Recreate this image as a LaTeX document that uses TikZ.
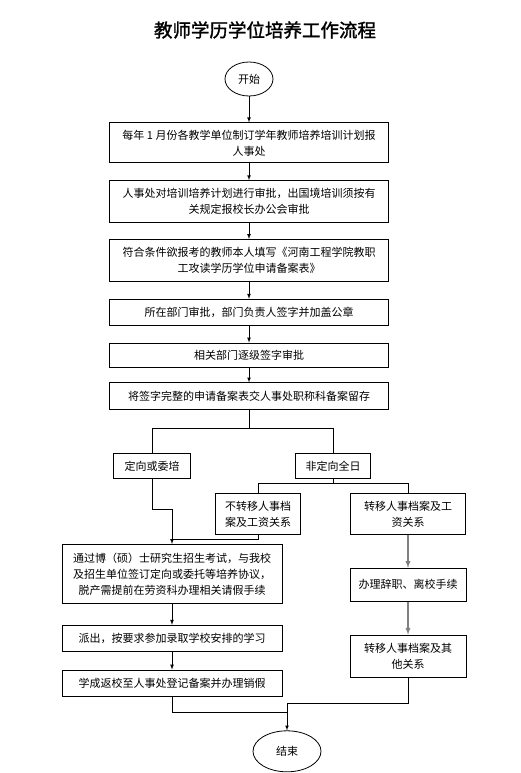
\documentclass[tikz,border=0pt]{standalone}
\usepackage{fontspec}
\setmainfont{Noto Sans CJK SC}
\newfontfamily\titlefont[FakeBold=1.5]{Noto Sans CJK SC}
\usepackage{tikz}
\usetikzlibrary{arrows, positioning, shapes.geometric}

\newcommand{\boxfont}{\fontsize{11pt}{16pt}\selectfont}

\begin{document}
\begin{tikzpicture}[node distance=17pt, >=latex, auto,
        box/.style={rectangle, draw, line width=0.8pt, align=center, inner sep=2pt, font=\boxfont},
        wide/.style={box, minimum width=279pt},
        term/.style={ellipse, draw, line width=0.8pt, inner sep=1pt, font=\boxfont},
        link/.style={draw, line width=0.7pt},
        side/.style={draw, gray, line width=1.3pt}
        ]
        \useasboundingbox (0,0) rectangle (520pt,-773pt);
        % Nodes
        \node [font=\titlefont\fontsize{18.5pt}{20pt}\selectfont] (title) at (265pt,-30pt) {教师学历学位培养工作流程};
        \node [term, minimum width=48pt, minimum height=34pt] (start) at (249pt,-79pt) {开始};

        \node [wide, below=26pt of start, minimum height=40pt] (plan) {每年 1 月份各教学单位制订学年教师培养培训计划报\\人事处};
        \node [wide, below=17pt of plan, minimum height=42pt] (audit) {人事处对培训培养计划进行审批，出国境培训须按有\\关规定报校长办公会审批};
        \node [wide, below=16pt of audit, minimum height=42pt] (apply) {符合条件欲报考的教师本人填写《河南工程学院教职\\工攻读学历学位申请备案表》};
        \node [wide, below=17pt of apply, minimum height=26pt] (dept) {所在部门审批，部门负责人签字并加盖公章};
        \node [wide, below=17pt of dept, minimum height=24pt] (sign) {相关部门逐级签字审批};
        \node [wide, below=15pt of sign, minimum height=27pt] (file) {将签字完整的申请备案表交人事处职称科备案留存};

        \node [box, below=43pt of file, xshift=-97pt, minimum width=77pt, minimum height=25pt] (orient) {定向或委培};
        \node [box, below=43pt of file, xshift=84pt, minimum width=75pt, minimum height=25pt] (full) {非定向全日};

        \node [box, below=14pt of full, xshift=-75pt, minimum width=85pt, minimum height=41pt] (nokeep) {不转移人事档\\案及工资关系};
        \node [box, below=14pt of full, xshift=75pt, minimum width=115pt, minimum height=41pt] (keep) {转移人事档案及工\\资关系};

        \node [box, below=65pt of orient, xshift=20pt, minimum width=220pt, minimum height=59pt] (exam) {通过博（硕）士研究生招生考试，与我校\\及招生单位签订定向或委托等培养协议，\\脱产需提前在劳资科办理相关请假手续};
        \node [box, below=21pt of exam, minimum width=220pt, minimum height=26pt] (leave) {派出，按要求参加录取学校安排的学习};
        \node [box, below=18pt of leave, minimum width=220pt, minimum height=26pt] (back) {学成返校至人事处登记备案并办理销假};

        \node [box, below=33pt of keep, minimum width=116pt, minimum height=33pt] (quit) {办理辞职、离校手续};
        \node [box, below=33pt of quit, minimum width=116pt, minimum height=42pt] (move) {转移人事档案及其\\他关系};

        \node [term, below=53pt of move, xshift=-121pt, minimum width=68pt, minimum height=41pt] (finish) {结束};

        \coordinate [below=18pt of file] (split);
        \coordinate [below=4pt of full] (subsplit);
        \coordinate [above=5pt of exam] (join);
        \coordinate [above=27pt of finish] (merge);

        % Edges
        \draw[->, link] (start) -- (plan);
        \draw[->, link] (plan) -- (audit);
        \draw[->, link] (audit) -- (apply);
        \draw[->, link] (apply) -- (dept);
        \draw[->, link] (dept) -- (sign);
        \draw[->, link] (sign) -- (file);

        % Branches
        \draw[link] (file) -- (split);
        \draw[link] (split) -| (orient);
        \draw[link] (split) -| (full);
        \draw[link] (full) -- (subsplit);
        \draw[link] (subsplit) -| (nokeep);
        \draw[link] (subsplit) -| (keep);

        \draw[link] (orient.south) -- ++(0,-30pt) -| (join);
        \draw[link] (nokeep.south) |- (join);
        \draw[->, link] (join) -- (exam);
        \draw[->, link] (exam) -- (leave);
        \draw[->, link] (leave) -- (back);

        \draw[->, side] (keep) -- (quit);
        \draw[->, side] (quit) -- (move);

        % End
        \draw[link] (move.south) |- (merge);
        \draw[link] (back.south) -- ++(0,-16pt) -| (merge);
        \draw[->, link] (merge) -- (finish);
    \end{tikzpicture}
\end{document}
